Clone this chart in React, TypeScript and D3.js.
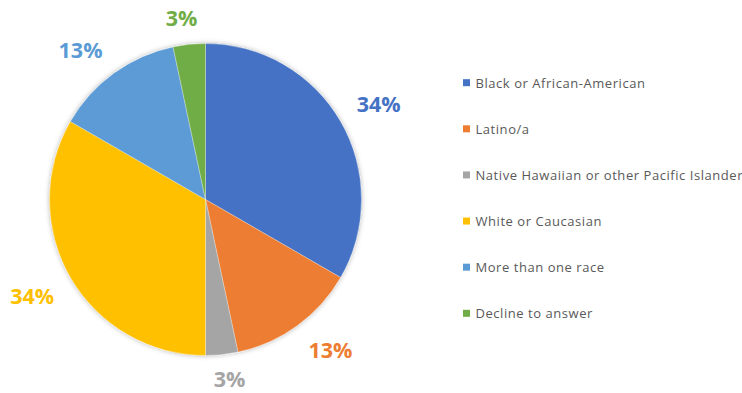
import React from "react";
import * as d3 from "d3";

const categories = [
  "Black or African-American",
  "Latino/a",
  "Native Hawaiian or other Pacific Islander",
  "White or Caucasian",
  "More than one race",
  "Decline to answer",
];
const values = [10, 4, 1, 10, 4, 1];
const valueLabels = ["34%", "13%", "3%", "34%", "13%", "3%"];
const colors = ["#4472C4", "#ED7D31", "#A5A5A5", "#FFC000", "#5B9BD5", "#70AD47"];

const W = 742;
const H = 393;

export default function App() {
  const cx = 205.5;
  const cy = 199.5;
  const R = 156;
  const pie = d3.pie<number>().sort(null).value((d) => d)(values);
  const arc = d3.arc<d3.PieArcDatum<number>>().innerRadius(0).outerRadius(R);

  const legendY = d3.scalePoint<number>().domain(d3.range(categories.length)).range([82.7, 313.3]);
  const clamp = (v: number) => Math.max(-1, Math.min(1, v));

  return (
    <svg width={W} height={H} style={{ position: "absolute", left: 0, top: 0, background: "#fff" }}>
      <defs>
        <filter id="sh" x="-20%" y="-20%" width="140%" height="140%">
          <feDropShadow dx="0" dy="0" stdDeviation="2.5" floodColor="#000" floodOpacity="0.3" />
        </filter>
      </defs>
      <g transform={`translate(${cx},${cy})`}>
        <g filter="url(#sh)">
          {pie.map((p, i) => (
            <path key={i} d={arc(p) || ""} fill={colors[i]} stroke="#fff" strokeWidth={0.3} />
          ))}
        </g>
        {pie.map((p, i) => {
          const a = (p.startAngle + p.endAngle) / 2;
          const hw = valueLabels[i].length === 3 ? 23 : 16;
          const hh = 9.5;
          const dist = R + 17.5;
          const x = Math.sin(a) * dist + clamp(Math.sin(a) * 3.5) * hw;
          const yRaw = -Math.cos(a) * dist + clamp(-Math.cos(a) * 3.5) * hh;
          const y = Math.min(yRaw, H - cy - 15);
          return (
            <text
              key={i}
              x={x}
              y={y}
              textAnchor="middle"
              dominantBaseline="central"
              fill={colors[i]}
              style={{ fontFamily: "'Open Sans', sans-serif", fontWeight: 700, fontSize: 21.5 }}
            >
              {valueLabels[i]}
            </text>
          );
        })}
      </g>
      <g>
        {categories.map((c, i) => (
          <g key={i} transform={`translate(463,${legendY(i)})`}>
            <rect x={0} y={-3.5} width={7} height={7} fill={colors[i]} />
            <text
              x={12.5}
              y={0}
              dominantBaseline="central"
              fill="#595959"
              style={{ fontFamily: "'Open Sans', sans-serif", fontSize: 13, letterSpacing: 0.55 }}
            >
              {c}
            </text>
          </g>
        ))}
      </g>
    </svg>
  );
}
